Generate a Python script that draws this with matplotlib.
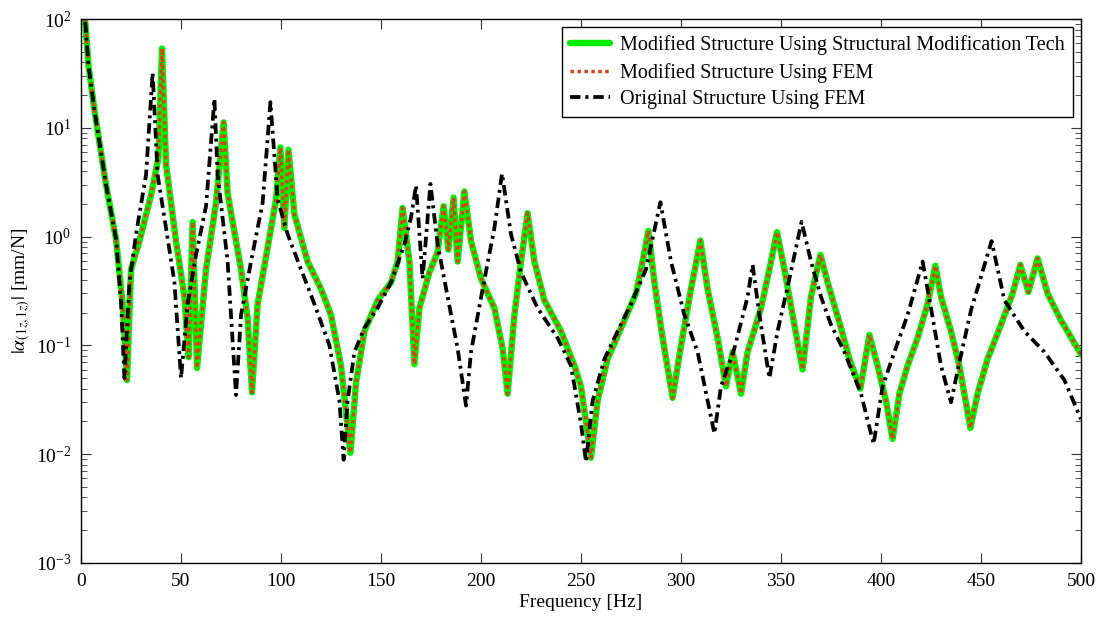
import numpy as np
import matplotlib.pyplot as plt

# FRF magnitude points (Hz, mm/N)
freq_mod = [1, 2, 3.7, 6.7, 12.5, 17.5, 20.8, 23, 25, 29.2, 35, 38.7, 40.5, 42.5, 47.5,
            51.7, 53.8, 55.8, 58, 62.5, 67.5, 71.3, 73.3, 80, 83.3, 85.5, 88.3, 93.3,
            97.5, 99.7, 101.7, 103.7, 106.7, 113.3, 120, 125, 130, 134.7, 137.5, 141.7,
            148.3, 155, 158.3, 160.8, 164.2, 166.7, 169.2, 174.2, 178.3, 181.3, 183.7,
            186.3, 188.3, 191.7, 195, 200, 206.7, 210.8, 213.3, 216.7, 220, 223.3, 226.7,
            231.7, 240, 246.7, 250, 255, 258.3, 263.3, 271.7, 277.5, 280.8, 283.7, 286.7,
            290.8, 295.8, 300, 305, 309.7, 313.3, 318.3, 322.5, 325.8, 330, 333.3, 340,
            344.2, 348, 351.7, 356.7, 360.8, 365, 369.7, 373.3, 380, 384.2, 389.7, 394.2,
            398.3, 402.5, 405.8, 409.2, 413.3, 418.3, 423.3, 427.2, 430, 435, 439.2, 444.7,
            448.3, 453.3, 460, 465.8, 469.7, 473.7, 478.3, 483.3, 490, 500]
amp_mod = [250, 100, 38, 14.5, 3.0, 0.95, 0.24, 0.048, 0.5, 0.91, 2.4, 5.3, 53.6, 4.6, 0.91,
           0.28, 0.078, 1.36, 0.062, 0.5, 2.04, 11.2, 2.5, 0.5, 0.18, 0.037, 0.24, 0.79,
           2.2, 6.6, 1.2, 6.3, 1.6, 0.59, 0.33, 0.19, 0.065, 0.0103, 0.045, 0.135,
           0.26, 0.38, 0.59, 1.83, 0.59, 0.067, 0.22, 0.47, 0.72, 1.9, 0.76,
           2.28, 0.59, 2.6, 0.91, 0.41, 0.22, 0.094, 0.036, 0.19, 0.59, 1.64, 0.59,
           0.26, 0.135, 0.065, 0.042, 0.0093, 0.031, 0.075, 0.17, 0.30, 0.59, 1.13, 0.38,
           0.117, 0.033, 0.1, 0.33, 0.92, 0.33, 0.117, 0.042, 0.087, 0.036, 0.087, 0.22,
           0.5, 1.1, 0.5, 0.155, 0.06, 0.28, 0.68, 0.38, 0.145, 0.075, 0.040, 0.125,
           0.065, 0.031, 0.0138, 0.036, 0.065, 0.117, 0.24, 0.54, 0.28, 0.135, 0.065, 0.0174,
           0.036, 0.075, 0.155, 0.30, 0.55, 0.31, 0.63, 0.30, 0.17, 0.083]

freq_orig = [1, 2, 3.7, 6.7, 12.5, 17.5, 20, 21.7, 24.2, 27.5, 32.5, 35.8, 38.3, 42.5, 46.7,
             50, 53.3, 57.5, 62.5, 66.7, 68.3, 73.3, 77.5, 80, 85, 90.8, 94.7, 98.3, 103.3,
             110, 116.7, 124.2, 129.2, 131.3, 133.3, 136.7, 141.7, 148.3, 155, 161.7, 165,
             167.5, 170.8, 174.7, 178.3, 183.3, 188.3, 192.5, 195, 200.8, 206.7, 210.5, 215,
             220, 228.3, 238.3, 245, 250, 252.5, 255.8, 261.7, 268.3, 275, 282.5, 289.7, 295,
             301.7, 308.3, 316.7, 320, 326.7, 333.3, 335.8, 339.2, 344.2, 348.3, 354.2, 360.3,
             365, 370, 375, 381.7, 390, 396.3, 400.8, 406.7, 413.3, 420.8, 425, 430, 435,
             439.2, 445, 455.3, 461.7, 471.7, 481.7, 491.7, 500]
amp_orig = [250, 100, 38, 14.5, 3.0, 0.95, 0.25, 0.05, 0.38, 1.05, 3.7, 32, 3.7, 1.2, 0.38,
            0.05, 0.24, 0.68, 1.9, 18.5, 3.7, 0.59, 0.035, 0.19, 0.59, 2.04, 17.2, 2.2, 1.05,
            0.5, 0.24, 0.1, 0.031, 0.0089, 0.031, 0.087, 0.145, 0.22, 0.38, 0.85, 1.5,
            2.95, 0.41, 3.05, 0.85, 0.28, 0.094, 0.028, 0.087, 0.33, 1.2, 3.8, 1.05,
            0.47, 0.22, 0.117, 0.065, 0.019, 0.0085, 0.031, 0.075, 0.135, 0.24, 0.5, 2.07, 0.59,
            0.19, 0.087, 0.0155, 0.042, 0.094, 0.28, 0.55, 0.19, 0.05, 0.135, 0.41, 1.37,
            0.59, 0.28, 0.155, 0.087, 0.036, 0.0124, 0.042, 0.087, 0.19, 0.59, 0.22, 0.065, 0.030,
            0.07, 0.21, 0.91, 0.26, 0.135, 0.087, 0.048, 0.021]

labels = ['Modified Structure Using Structural Modification Tech',
          'Modified Structure Using FEM',
          'Original Structure Using FEM']

plt.rcParams['font.family'] = ['Liberation Serif', 'DejaVu Serif']
plt.rcParams['mathtext.fontset'] = 'stix'
plt.rcParams['font.size'] = 14

fig = plt.figure(figsize=(11.07, 6.21), dpi=100)
ax = fig.add_axes([0.0732, 0.0934, 0.9033, 0.876])

ax.semilogy(freq_mod, amp_mod, color='#00ee00', lw=4.6, solid_joinstyle='round',
            solid_capstyle='round', label=labels[0])
ax.semilogy(freq_mod, amp_mod, color='#d8431c', lw=2.5, linestyle=(0, (1.0, 1.0)),
            dash_joinstyle='round', label=labels[1])
ax.semilogy(freq_orig, amp_orig, color='black', lw=2.7, linestyle=(0, (2.8, 1.3, 0.8, 1.3)),
            dash_joinstyle='round', label=labels[2])

ax.set_xlim(0, 500)
ax.set_ylim(1e-3, 1e2)
ax.set_xticks(np.arange(0, 501, 50))
ax.tick_params(which='both', direction='in', top=True, right=True, labelsize=14,
               color='#333333', pad=7)
ax.tick_params(which='major', length=7)
ax.tick_params(which='minor', length=4)
for s in ax.spines.values():
    s.set_linewidth(1.0)

ax.set_xlabel('Frequency [Hz]', fontsize=14, labelpad=3)
ax.set_ylabel(r'$|\alpha_{(1z,1z)}|$ [mm/N]', fontsize=14, labelpad=2)

leg = ax.legend(loc='upper right', fontsize=14.5, handlelength=2.0, handletextpad=0.5,
                fancybox=False, edgecolor='black', framealpha=1, borderaxespad=0.4,
                borderpad=0.4, labelspacing=0.38)
leg.get_frame().set_linewidth(1.0)

fig.savefig('out.png', dpi=100)
